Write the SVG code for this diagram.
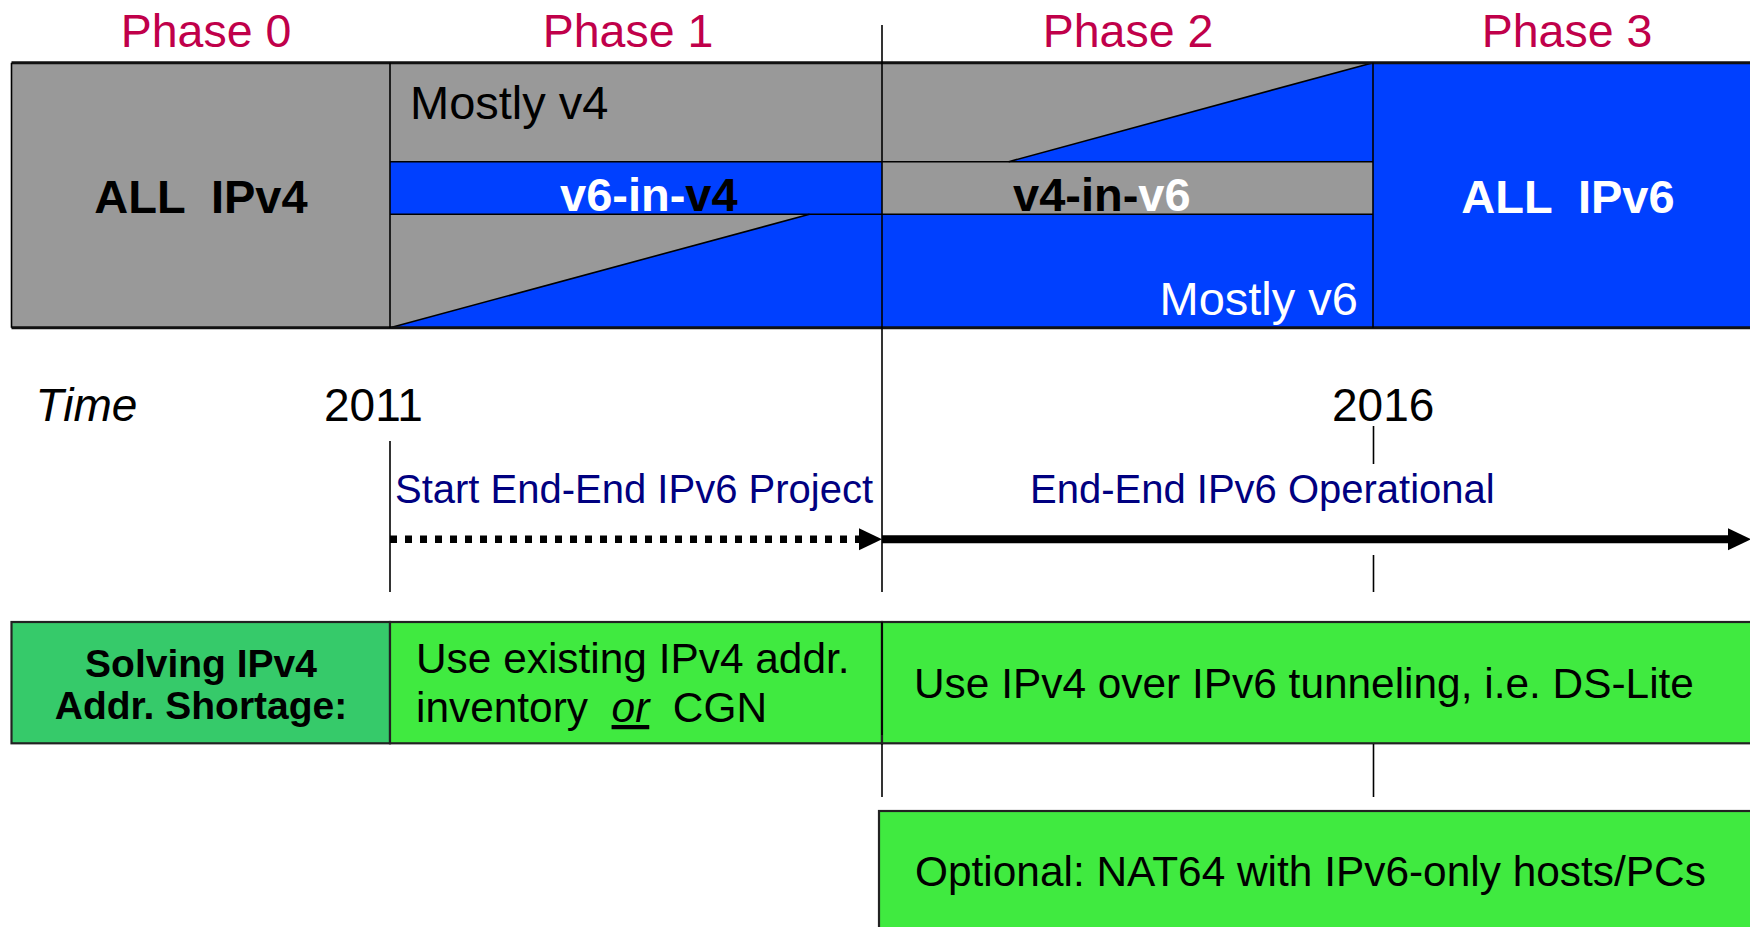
<svg xmlns="http://www.w3.org/2000/svg" width="1750" height="927" viewBox="0 0 1750 927">
  <style>
    text { font-family: "Liberation Sans", Arial, sans-serif; }
    .phase { font-size: 46.5px; fill: #C0004A; text-anchor: middle; }
    .big { font-size: 47px; }
    .bold { font-weight: bold; }
    .time { font-size: 46px; fill: #000; }
    .note { font-size: 40px; fill: #000080; }
    .cell { font-size: 42.4px; fill: #000; }
    .gray { fill: #999999; }
    .blue { fill: #0040FF; }
    .thin { stroke: #000; stroke-width: 1.6; fill: none; }
    .frame { stroke: #111; stroke-width: 3; fill: none; }
    .gbox { stroke: #222; stroke-width: 2.2; }
  </style>
  <defs>
    <marker id="head" markerUnits="userSpaceOnUse" markerWidth="24" markerHeight="24" refX="0" refY="12" orient="auto">
      <path d="M0,1 L23,12 L0,23 Z" fill="#000"/>
    </marker>
  </defs>

  <!-- phase headings -->
  <g id="phase-labels">
    <text class="phase" x="206" y="47">Phase 0</text>
    <text class="phase" x="628" y="47">Phase 1</text>
    <text class="phase" x="1128" y="47">Phase 2</text>
    <text class="phase" x="1567" y="47">Phase 3</text>
  </g>

  <!-- phase 0: all IPv4 -->
  <g id="phase0">
    <rect class="gray" x="11.5" y="62.7" width="378.5" height="265"/>
    <text class="big bold" x="201" y="213" text-anchor="middle" xml:space="preserve">ALL  IPv4</text>
  </g>

  <!-- phase 1: mostly v4, v6 tunnelled in v4 -->
  <g id="phase1">
    <rect class="gray" x="390" y="62.7" width="492" height="265"/>
    <rect class="blue" x="390" y="161.7" width="492" height="52.6"/>
    <polygon class="blue" points="390,327.7 809.5,214.3 882,214.3 882,327.7"/>
    <line class="thin" x1="390" y1="161.7" x2="882" y2="161.7"/>
    <line class="thin" x1="390" y1="214.3" x2="882" y2="214.3"/>
    <line class="thin" x1="390" y1="327.7" x2="809.5" y2="214.3" stroke-width="2.2"/>
    <text class="big" x="410" y="119">Mostly v4</text>
    <text class="big bold" x="560" y="211"><tspan fill="#fff">v6-in-</tspan><tspan fill="#000">v4</tspan></text>
  </g>

  <!-- phase 2: mostly v6, v4 tunnelled in v6 -->
  <g id="phase2">
    <rect class="blue" x="882" y="62.7" width="491" height="265"/>
    <polygon class="gray" points="882,62.7 1373,62.7 1008.7,161.7 882,161.7"/>
    <rect class="gray" x="882" y="161.7" width="491" height="52.6"/>
    <line class="thin" x1="882" y1="161.7" x2="1373" y2="161.7"/>
    <line class="thin" x1="882" y1="214.3" x2="1373" y2="214.3"/>
    <line class="thin" x1="1008.7" y1="161.7" x2="1373" y2="62.7" stroke-width="2.2"/>
    <text class="big bold" x="1013" y="211"><tspan fill="#000">v4-in-</tspan><tspan fill="#fff">v6</tspan></text>
    <text class="big" x="1358" y="315" text-anchor="end" fill="#fff">Mostly v6</text>
  </g>

  <!-- phase 3: all IPv6 -->
  <g id="phase3">
    <rect class="blue" x="1373" y="62.7" width="377" height="265"/>
    <text class="big bold" x="1568" y="213" text-anchor="middle" fill="#fff" xml:space="preserve">ALL  IPv6</text>
  </g>

  <!-- outline and phase dividers of the top band -->
  <g id="band-frame">
    <line class="frame" x1="11.5" y1="62.7" x2="1750" y2="62.7"/>
    <line class="frame" x1="11.5" y1="327.7" x2="1750" y2="327.7"/>
    <line class="thin" x1="11.5" y1="62.7" x2="11.5" y2="327.7" stroke-width="2.4"/>
    <line class="thin" x1="390" y1="62.7" x2="390" y2="327.7"/>
    <line class="thin" x1="1373" y1="62.7" x2="1373" y2="327.7" stroke-width="2"/>
  </g>

  <!-- time axis labels and ticks -->
  <g id="time-axis">
    <text class="time" x="35.6" y="421" font-style="italic" font-size="45px">Time</text>
    <text class="time" x="324" y="421">2011</text>
    <text class="time" x="1332" y="421">2016</text>
    <line class="thin" x1="882" y1="25" x2="882" y2="592"/>
    <line class="thin" x1="390" y1="441" x2="390" y2="592"/>
    <line class="thin" x1="1373.5" y1="426" x2="1373.5" y2="464"/>
    <line class="thin" x1="1373.5" y1="555" x2="1373.5" y2="592"/>
    <text class="note" x="395" y="503">Start End-End IPv6 Project</text>
    <text class="note" x="1030" y="503">End-End IPv6 Operational</text>
  </g>

  <!-- timeline arrows -->
  <g id="connectors">
    <line x1="390" y1="539.3" x2="859" y2="539.3" stroke="#000" stroke-width="7.5" stroke-dasharray="7 8" marker-end="url(#head)"/>
    <line x1="882" y1="539.3" x2="1728" y2="539.3" stroke="#000" stroke-width="8" marker-end="url(#head)"/>
  </g>

  <!-- address shortage row -->
  <g id="shortage-label">
    <rect class="gbox" x="11.5" y="622" width="378.5" height="121.3" fill="#36CA6A"/>
    <text class="bold" font-size="39px" x="201" y="677" text-anchor="middle">Solving IPv4</text>
    <text class="bold" font-size="39px" x="201" y="719.3" text-anchor="middle">Addr. Shortage:</text>
  </g>
  <g id="existing-inventory">
    <rect class="gbox" x="390" y="622" width="492" height="121.3" fill="#40EA40"/>
    <text class="cell" x="416" y="673">Use existing IPv4 addr.</text>
    <text class="cell" x="416" y="722" xml:space="preserve">inventory  <tspan font-style="italic" text-decoration="underline">or</tspan>  CGN</text>
  </g>
  <g id="ds-lite">
    <rect class="gbox" x="882" y="622" width="870" height="121.3" fill="#40EA40"/>
    <line class="thin" x1="882" y1="622" x2="882" y2="735"/>
    <text class="cell" x="914" y="698">Use IPv4 over IPv6 tunneling, i.e. DS-Lite</text>
  </g>

  <!-- phase boundary ticks below the row -->
  <g id="row-ticks">
    <line class="thin" x1="882" y1="744" x2="882" y2="797"/>
    <line class="thin" x1="1373.5" y1="744" x2="1373.5" y2="797"/>
  </g>

  <g id="nat64">
    <rect class="gbox" x="879" y="811" width="875" height="120" fill="#40EA40"/>
    <text class="cell" x="915" y="886">Optional: NAT64 with IPv6-only hosts/PCs</text>
  </g>
</svg>
